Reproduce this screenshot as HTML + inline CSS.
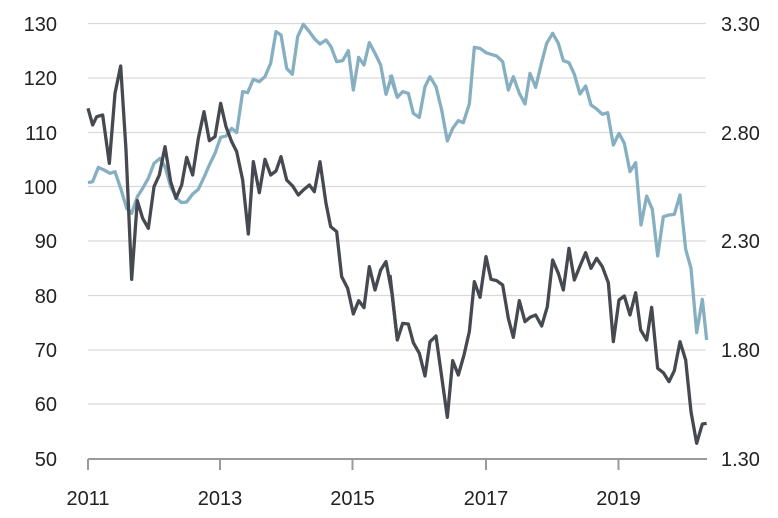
<!DOCTYPE html>
<html><head><meta charset="utf-8"><style>
html,body{margin:0;padding:0;background:#fff;}
svg{display:block;}
text{font-family:"Liberation Sans",sans-serif;font-size:20px;fill:#222;}
</style></head><body>
<svg width="778" height="518" viewBox="0 0 778 518">
<g stroke="#d9d9d9" stroke-width="1.3">
<line x1="88" x2="706" y1="23.5" y2="23.5"/>
<line x1="88" x2="706" y1="78" y2="78"/>
<line x1="88" x2="706" y1="132.5" y2="132.5"/>
<line x1="88" x2="706" y1="186.5" y2="186.5"/>
<line x1="88" x2="706" y1="241" y2="241"/>
<line x1="88" x2="706" y1="295.5" y2="295.5"/>
<line x1="88" x2="706" y1="350" y2="350"/>
<line x1="88" x2="706" y1="404" y2="404"/>
</g>
<g stroke="#9a9a9a" stroke-width="2">
<line x1="88" x2="707" y1="459" y2="459"/>
<line x1="88" x2="88" y1="459" y2="470"/>
<line x1="220" x2="220" y1="459" y2="470"/>
<line x1="352.5" x2="352.5" y1="459" y2="470"/>
<line x1="486" x2="486" y1="459" y2="470"/>
<line x1="618.5" x2="618.5" y1="459" y2="470"/>
</g>
<g text-anchor="end">
<text x="57" y="31">130</text><text x="57" y="85">120</text><text x="57" y="140">110</text><text x="57" y="194">100</text>
<text x="57" y="248">90</text><text x="57" y="303">80</text><text x="57" y="357">70</text><text x="57" y="411">60</text><text x="57" y="466">50</text>
</g>
<g text-anchor="start">
<text x="721" y="31">3.30</text><text x="721" y="140">2.80</text><text x="721" y="248">2.30</text><text x="721" y="357">1.80</text><text x="721" y="466">1.30</text>
</g>
<g text-anchor="middle">
<text x="88" y="505">2011</text><text x="220" y="505">2013</text><text x="352.5" y="505">2015</text><text x="486" y="505">2017</text><text x="618.5" y="505">2019</text>
</g>
<g fill="none" stroke-width="3.3" stroke-linejoin="round">
<polyline transform="translate(80,10) scale(0.33333)" vector-effect="non-scaling-stroke" stroke="#86afc1" points="24,518 38,515 55,472 72,480 90,490 105,485 122,535 140,595 155,610 172,560 188,535 205,505 222,460 240,445 255,470 272,530 290,565 305,578 320,576 338,552 355,538 372,502 388,465 405,430 422,382 438,378 455,355 470,368 488,245 503,248 520,208 538,215 555,200 572,160 588,65 603,75 620,175 637,193 653,80 670,43 688,65 705,88 720,102 738,90 753,110 770,155 788,152 805,122 820,240 836,142 852,165 868,98 885,130 902,165 918,253 935,198 952,262"/>
<polyline transform="translate(390,10) scale(0.33333)" vector-effect="non-scaling-stroke" stroke="#86afc1" points="0,195 22,262 38,245 55,250 70,310 88,322 105,230 120,200 138,230 155,300 172,393 188,355 205,332 220,338 238,282 253,112 270,115 288,128 303,133 320,138 338,155 355,240 370,200 388,250 405,282 420,190 437,232 453,165 470,100 488,70 505,100 520,152 537,158 553,193 570,252 587,228 603,285 620,297 637,313 653,308 670,405 687,370 703,400 720,485 737,458 753,645 770,558 787,598 803,738 820,620 837,615 853,613 870,555 887,718 903,775 920,968 937,868 950,990"/>
<polyline transform="translate(80,10) scale(0.33333)" vector-effect="non-scaling-stroke" stroke="#464a50" points="24,295 38,345 50,320 68,315 88,460 105,250 122,168 138,420 155,808 172,572 188,625 205,655 222,530 238,495 255,410 272,515 288,565 305,525 320,442 338,495 355,385 372,305 388,392 405,380 422,280 438,350 455,395 470,425 488,510 505,672 520,455 538,548 555,448 572,495 588,483 603,440 620,510 638,528 655,555 670,540 688,525 703,545 720,455 738,580 752,650 770,665 785,800 803,835 820,912 836,872 852,893 868,770 885,840 902,780 918,755 936,850 952,990"/>
<polyline transform="translate(390,10) scale(0.33333)" vector-effect="non-scaling-stroke" stroke="#464a50" points="0,795 22,990 38,940 55,942 70,998 88,1030 105,1098 120,995 138,978 155,1100 172,1222 188,1052 205,1095 222,1035 238,965 253,815 270,862 288,740 303,808 320,812 338,825 355,925 370,982 388,872 405,935 420,922 437,915 455,948 472,890 488,750 505,790 520,840 537,715 553,810 570,768 587,728 603,775 620,745 637,770 655,818 670,995 687,870 703,858 720,915 737,848 752,960 770,990 785,892 803,1075 820,1088 837,1115 853,1082 870,995 887,1050 903,1205 920,1300 937,1242 950,1240"/>
</g>
</svg>
</body></html>
